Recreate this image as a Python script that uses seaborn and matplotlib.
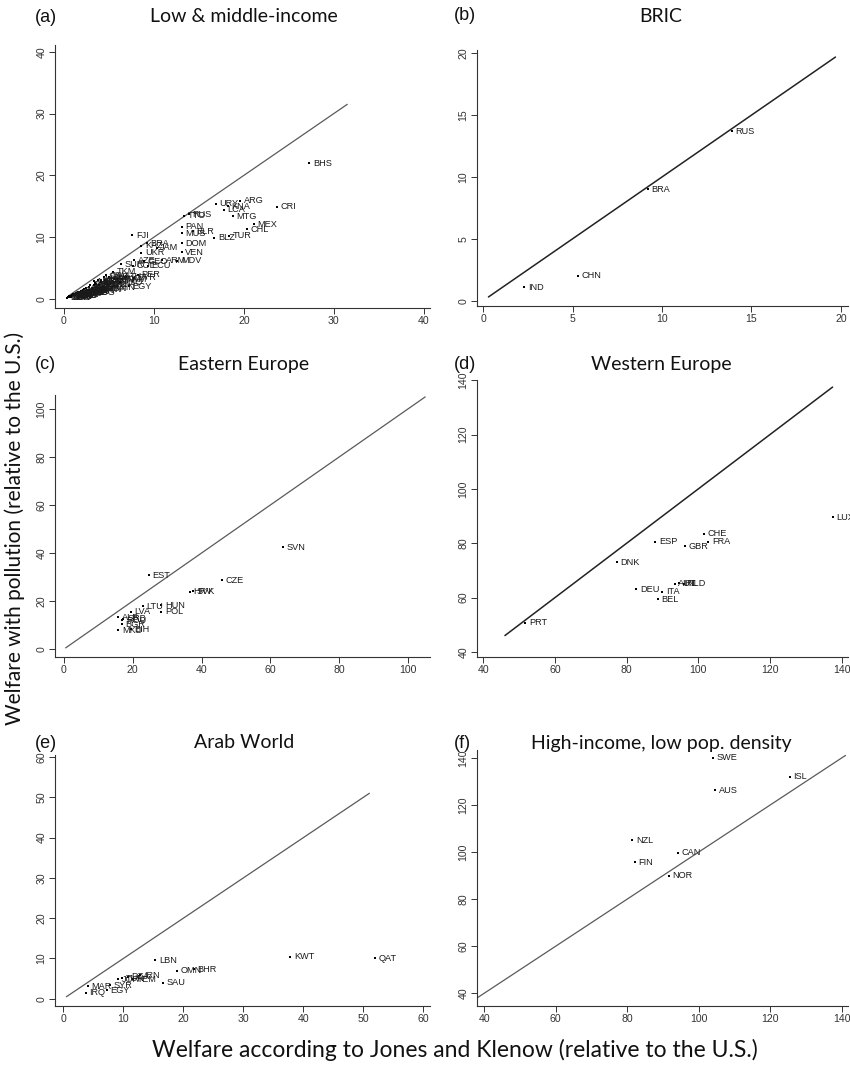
import numpy as np
import pandas as pd
import matplotlib
matplotlib.use("Agg")
import matplotlib.pyplot as plt
import seaborn as sns

sns.set_theme(style="white")
plt.rcParams['font.family'] = ['Liberation Sans', 'DejaVu Sans']

# --------------------------
# Data
# --------------------------
# (a) Low & middle-income
a_codes = ["BHS", "CRI", "ARG", "URY", "KNA", "LCA", "MTG", "MEX", "CHL", "TUR",
           "BLZ", "TTO", "RUS", "PAN", "BLR", "MUS", "DOM", "VEN", "MDV", "FJI",
           "KAZ", "BRA", "JAM", "UKR", "AZE", "GEO", "ARM", "SUR", "COL", "ECU",
           "TKM", "PER", "THA", "GTM", "CHN", "IND",
           "BDI", "COD", "LBR", "NER", "CAF", "MWI", "ETH", "MOZ", "TCD", "GIN",
           "TGO", "MDG", "SLE", "RWA", "UGA", "BFA", "MLI", "TZA", "NPL", "GMB",
           "BEN", "HTI", "KEN", "BGD", "ZMB", "KHM", "LSO", "CMR", "SEN", "PAK",
           "CIV", "KGZ", "NGA", "TJK", "LAO", "MRT", "VNM", "HND", "NIC", "MDA",
           "PHL", "BOL", "GHA", "SDN", "LKA", "IDN", "SLV", "PRY", "AGO", "MAR",
           "EGY", "SYR", "UZB", "PNG", "SWZ", "COG", "BTN", "GUY", "NAM", "CPV", "YEM"]
a_x = [27.3, 23.7, 19.6, 16.9, 18.2, 17.8, 18.8, 21.1, 20.3, 18.4,
       16.7, 13.4, 13.9, 13.1, 14.3, 13.1, 13.1, 13.1, 12.6, 7.6,
       8.6, 9.2, 10.3, 8.6, 7.8, 8.9, 10.9, 6.3, 7.7, 9.3,
       5.5, 8.2, 6.9, 5.9, 5.3, 2.3,
       0.3, 0.4, 0.5, 0.5, 0.6, 0.6, 0.7, 0.8, 0.8, 0.9,
       0.9, 1.0, 1.0, 1.1, 1.2, 1.2, 1.3, 1.4, 1.4, 1.5,
       1.6, 1.6, 1.8, 1.9, 2.0, 2.1, 2.2, 2.4, 2.5, 2.6,
       2.7, 2.8, 3.0, 2.9, 3.1, 3.3, 3.4, 3.5, 3.3, 3.8,
       3.9, 4.1, 4.2, 4.4, 4.6, 4.8, 5.0, 5.6, 6.2, 4.1,
       7.2, 7.8, 3.6, 2.3, 4.5, 3.0, 4.0, 5.3, 6.5, 4.7, 3.6]
a_y = [22.0, 14.9, 15.9, 15.4, 15.0, 14.4, 13.4, 12.1, 11.3, 10.2,
       9.9, 13.5, 13.7, 11.7, 11.0, 10.6, 9.0, 7.6, 6.2, 10.3,
       8.6, 9.0, 8.3, 7.5, 6.3, 6.1, 6.3, 5.6, 5.4, 5.4,
       4.4, 3.9, 3.6, 3.2, 1.9, 1.1,
       0.2, 0.3, 0.3, 0.4, 0.4, 0.5, 0.5, 0.5, 0.4, 0.6,
       0.7, 0.6, 0.8, 0.7, 0.8, 0.6, 0.9, 0.8, 1.0, 0.9,
       1.1, 0.8, 1.0, 1.3, 1.1, 1.4, 1.6, 1.3, 1.7, 1.2,
       1.5, 2.0, 1.4, 2.3, 1.8, 2.2, 1.5, 2.6, 2.9, 3.0,
       2.3, 2.8, 2.0, 1.7, 3.1, 2.4, 3.5, 3.3, 2.7, 3.1,
       2.1, 3.4, 2.4, 1.0, 3.6, 1.0, 1.6, 2.9, 3.2, 3.8, 2.0]

# (b) BRIC
b_codes = ["RUS", "BRA", "CHN", "IND"]
b_x = [13.9, 9.2, 5.3, 2.3]
b_y = [13.7, 9.0, 2.0, 1.1]

# (c) Eastern Europe
c_codes = ["SVN", "EST", "CZE", "HRV", "SVK", "LTU", "HUN", "POL", "LVA",
           "ALB", "SRB", "ROU", "BGR", "MKD", "BIH"]
c_x = [63.7, 24.7, 46.0, 36.6, 37.6, 22.9, 28.3, 28.3, 19.4,
       15.8, 17.3, 17.0, 16.8, 15.8, 19.4]
c_y = [42.5, 30.8, 28.7, 23.9, 24.1, 17.9, 18.3, 15.5, 15.5,
       13.2, 12.6, 12.1, 10.3, 7.9, 8.2]

# (d) Western Europe
d_codes = ["LUX", "CHE", "FRA", "ESP", "GBR", "DNK", "AUT", "IRL", "NLD",
           "DEU", "ITA", "BEL", "PRT"]
d_x = [137.6, 101.5, 102.8, 88.0, 96.2, 77.2, 93.4, 94.7, 96.0,
       82.7, 89.9, 88.7, 51.7]
d_y = [89.5, 83.5, 80.6, 80.5, 78.9, 73.0, 65.0, 65.2, 65.0,
       63.0, 62.2, 59.4, 50.8]

# (e) Arab World
e_codes = ["QAT", "KWT", "LBN", "OMN", "BHR", "SAU", "IRN", "JOR", "TUN",
           "DZA", "YEM", "SYR", "MAR", "EGY", "IRQ"]
e_x = [52.0, 37.8, 15.3, 18.9, 21.7, 16.6, 12.8, 9.1, 9.8,
       10.7, 11.6, 7.8, 4.1, 7.2, 3.7]
e_y = [10.1, 10.4, 9.6, 7.0, 7.3, 4.0, 5.8, 4.8, 5.1,
       5.4, 4.9, 3.4, 3.1, 2.1, 1.5]

# (f) High-income, low pop. density
f_codes = ["SWE", "ISL", "AUS", "NZL", "CAN", "FIN", "NOR"]
f_x = [104.0, 125.4, 104.5, 81.4, 94.1, 82.2, 91.6]
f_y = [140.0, 132.0, 126.3, 104.9, 99.6, 95.7, 89.9]

W, H = 850, 1066


def rect(l, t, r, b):
    return [l / W, 1 - b / H, (r - l) / W, (b - t) / H]


def panel(box, codes, xs, ys, xlim, ylim, ticks, line, title, tag, title_xy,
          tag_x, lcolor="#5a5a5a", lw=0.9):
    ax = fig.add_axes(rect(*box))
    df = pd.DataFrame({"code": codes, "x": xs, "y": ys})
    ax.plot(line, line, color=lcolor, lw=lw, zorder=1)
    sns.scatterplot(data=df, x="x", y="y", ax=ax, marker="s", s=4,
                    color="black", linewidth=0, zorder=2)
    for _, r in df.iterrows():
        ax.annotate(r["code"], (r["x"], r["y"]), xytext=(2.6, 0),
                    textcoords="offset points", fontsize=6.6, va="center",
                    ha="left", color="#1a1a1a")
    ax.set_xlim(*xlim)
    ax.set_ylim(*ylim)
    ax.set_xticks(ticks)
    ax.set_yticks(ticks)
    ax.set_xlabel("")
    ax.set_ylabel("")
    sns.despine(ax=ax)
    for s in ["left", "bottom"]:
        ax.spines[s].set_color("#333333")
        ax.spines[s].set_linewidth(0.8)
    ax.tick_params(direction="out", length=4, width=0.7, colors="#333333",
                   labelsize=7.6, pad=2, left=True, bottom=True)
    for lab in ax.get_yticklabels():
        lab.set_rotation(90)
        lab.set_va("center")
    fig.text(title_xy[0] / W, 1 - title_xy[1] / H, title, family="Lato",
             fontsize=14, ha="center", va="center", color="#111111")
    fig.text(tag_x / W, 1 - title_xy[1] / H, tag, fontsize=13,
             ha="left", va="center", color="#111111")
    return ax


fig = plt.figure(figsize=(8.5, 10.66), dpi=100)

panel((55, 45, 430, 308), a_codes, a_x, a_y, (-1.0, 40.7), (-1.46, 41.1),
      [0, 10, 20, 30, 40], [0.5, 31.5], "Low & middle-income", "(a)",
      (244, 17), 35)
panel((477, 50, 848, 306), b_codes, b_x, b_y, (-0.34, 20.4), (-0.43, 20.27),
      [0, 5, 10, 15, 20], [0.3, 19.7], "BRIC", "(b)", (661, 16), 454,
      lcolor="#222222", lw=1.1)
panel((55, 395, 430, 657), c_codes, c_x, c_y, (-2.6, 106.4), (-3.3, 105.8),
      [0, 20, 40, 60, 80, 100], [0.5, 105], "Eastern Europe", "(c)",
      (244, 364), 35)
panel((477, 380, 848, 657), d_codes, d_x, d_y, (38.2, 141.8), (38.1, 140.1),
      [40, 60, 80, 100, 120, 140], [46, 137.5], "Western Europe", "(d)",
      (661, 364), 454, lcolor="#222222", lw=1.1)
panel((55, 755, 430, 1006), e_codes, e_x, e_y, (-1.4, 61.1), (-1.8, 60.5),
      [0, 10, 20, 30, 40, 50, 60], [0.5, 51], "Arab World", "(e)",
      (244, 743), 35)
panel((477, 750, 848, 1006), f_codes, f_x, f_y, (38.0, 141.7), (34.6, 143.3),
      [40, 60, 80, 100, 120, 140], [38, 141], "High-income, low pop. density",
      "(f)", (661, 743), 454)

fig.text(15 / W, 1 - 528 / H, "Welfare with pollution (relative to the U.S.)",
         family="Lato", fontsize=15, rotation=90, ha="center", va="center",
         color="#111111")
fig.text(455 / W, 1 - 1050 / H,
         "Welfare according to Jones and Klenow (relative to the U.S.)",
         family="Lato", fontsize=16.5, ha="center", va="center", color="#111111")

fig.savefig("out.png", dpi=100, facecolor="white")
